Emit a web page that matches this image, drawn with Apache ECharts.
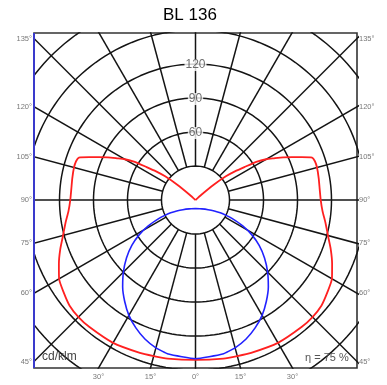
<!DOCTYPE html>
<html>
<head>
<meta charset="utf-8">
<script src="https://cdn.jsdelivr.net/npm/echarts@6/dist/echarts.min.js"></script>
<style>html,body{margin:0;padding:0;background:#fff}#c{width:387px;height:385px}</style>
</head>
<body>
<div id="c"></div>
<script>
// ---- data (cd/klm, angle in degrees from nadir) ----
const redAngles  = [0,10,15,20,30,40,45,50,55,60,65,70,75,80,85,90,95,100,105,108,110,112,114,116,118,120,122,124,126,128,130,132,134,140,150,160,170,180];
const redValues  = [141,142,142.5,143.5,145.5,146,146,145,142,139,133,127,121,116.5,112.5,110.5,110,110.4,111,110.8,109.5,101,93,86,78.5,72,64,52,43,34,21,7,0,0,0,0,0,0];
// blue curve (it turns back near the centre)
const blueAngles = [0,10,15,20,25,30,35,40,45,50,54.5,58.3,61.3,63.3,63.4,62.7,59.7,52.6,35.8,0];
const blueValues = [140,138,135,130.5,124.5,117.5,109,100,90,79.5,69,58.5,47.5,36,30.2,24.6,19.2,14,9.6,7.5];
const circleRadii = [30,60,90,120,150,180];
const radialAngles = [0,15,30,45,60,75,90,105,120,135,150,165,180,195,210,225,240,255,270,285,300,315,330,345];
const sideTickAngles = [45,60,75,90,105,120,135];
const bottomTickAngles = [-30,-15,0,15,30];
const radiusLabels = [60,90,120];
const titleText = 'BL 136';
const unitText = 'cd/klm';
const effText = 'η = 75 %';

const XMAX = 142.5, YMIN = -148.2, YMAX = 147.4;
const rad = d => d * Math.PI / 180;
const pt = (ang, r, side) => [side * r * Math.sin(rad(ang)), -r * Math.cos(rad(ang))];

function curve(angles, values) {
  const left = angles.map((a, i) => pt(a, values[i], -1)).reverse();
  const right = angles.map((a, i) => pt(a, values[i], 1)).slice(1);
  return left.concat(right);
}

const gridStyle = { color: '#141414', width: 1.5 };
const series = [];
circleRadii.forEach(r => {
  const d = [];
  for (let a = 0; a <= 360; a += 2) d.push(pt(a, r, 1));
  series.push({ type: 'line', data: d, symbol: 'none', silent: true, lineStyle: gridStyle, z: 1 });
});
radialAngles.forEach(a => {
  series.push({ type: 'line', data: [pt(a, 30, 1), pt(a, 240, 1)], symbol: 'none', silent: true, lineStyle: gridStyle, z: 1 });
});
series.push({ type: 'line', data: curve(redAngles, redValues), symbol: 'none', smooth: 0.2,
  lineStyle: { color: '#ff2020', width: 1.8 }, z: 5 });
series.push({ type: 'line', data: curve(blueAngles, blueValues), symbol: 'none', smooth: 0.15,
  lineStyle: { color: '#2222ff', width: 1.6 }, z: 6 });

const tickLbl = { show: true, fontSize: 7.5, color: '#555', fontFamily: 'Liberation Sans' };
const leftPts = sideTickAngles.map(a => ({ value: [-XMAX, -XMAX / Math.tan(rad(a))], name: a + '°' }));
const rightPts = sideTickAngles.map(a => ({ value: [XMAX, -XMAX / Math.tan(rad(a))], name: a + '°' }));
const botPts = bottomTickAngles.map(a => ({ value: [-YMIN * Math.tan(rad(a)), YMIN], name: Math.abs(a) + '°' }));
series.push({ type: 'scatter', data: leftPts, symbolSize: 0, silent: true, z: 10, clip: false,
  label: Object.assign({}, tickLbl, { position: 'left', distance: 2, formatter: p => p.name }) });
series.push({ type: 'scatter', data: rightPts, symbolSize: 0, silent: true, z: 10, clip: false,
  label: Object.assign({}, tickLbl, { position: 'right', distance: 2, formatter: p => p.name }) });
series.push({ type: 'scatter', data: botPts, symbolSize: 0, silent: true, z: 10, clip: false,
  label: Object.assign({}, tickLbl, { position: 'bottom', distance: 5, formatter: p => p.name }) });
series.push({ type: 'scatter', data: radiusLabels.map(r => ({ value: [0, r], name: String(r) })), symbolSize: 0, silent: true, z: 10,
  label: { show: true, position: 'inside', formatter: p => p.name, fontSize: 12, color: '#4a4a4a', backgroundColor: '#fff',
    padding: [0, 1], fontFamily: 'Liberation Sans', offset: [0, 1] } });

const chart = echarts.init(document.getElementById('c'));
chart.setOption({
  animation: false,
  backgroundColor: '#fff',
  title: { text: titleText, left: 163, top: 7, padding: 0,
    textStyle: { fontSize: 17, fontWeight: 'normal', color: '#000', fontFamily: 'Liberation Sans' } },
  grid: { left: 34, top: 33, width: 323, height: 335, show: true, borderColor: '#333', borderWidth: 1.6, backgroundColor: 'transparent' },
  xAxis: { type: 'value', min: -XMAX, max: XMAX, show: false },
  yAxis: { type: 'value', min: YMIN, max: YMAX, show: false },
  series: series,
  graphic: [
    { type: 'line', shape: { x1: 34, y1: 33, x2: 34, y2: 368 }, style: { stroke: '#3a3acc', lineWidth: 2 }, z: 100 },
    { type: 'text', left: 42, top: 351, style: { text: unitText, fontSize: 12, fill: '#444', fontFamily: 'Liberation Sans' }, z: 100 },
    { type: 'text', left: 305, top: 352, style: { text: effText, fontSize: 11, fill: '#555', fontFamily: 'Liberation Sans' }, z: 100 }
  ]
});
</script>
</body>
</html>
